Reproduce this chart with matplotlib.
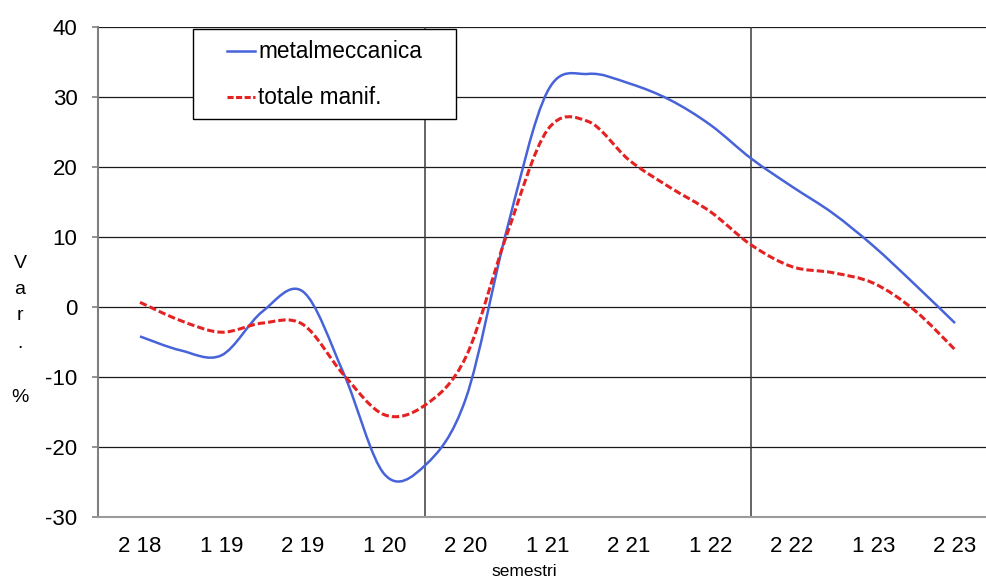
import numpy as np
import matplotlib
matplotlib.use("Agg")
import matplotlib.pyplot as plt
from matplotlib.path import Path
from matplotlib.patches import PathPatch, Rectangle
from matplotlib.lines import Line2D

plt.rcParams['font.family'] = ['Liberation Sans', 'DejaVu Sans']
plt.rcParams['axes.unicode_minus'] = False

# ---- data (quarterly readings, labels every semester) ----
categories = ['2 18', '1 19', '2 19', '1 20', '2 20', '1 21',
              '2 21', '1 22', '2 22', '1 23', '2 23']
quarters = list(range(21))
metalmeccanica = [-4.2, -6.2, -6.9, -0.67, 2.2, -9.5, -23.9, -22.6, -13.0, 11.0,
                  30.8, 33.3, 31.95, 29.6, 26.0, 21.2, 17.2, 13.4, 8.7, 3.3, -2.3]
totale_manif = [0.67, -1.95, -3.6, -2.3, -2.5, -9.7, -15.4, -14.0, -7.1, 10.3,
                25.3, 26.5, 21.0, 17.1, 13.6, 8.86, 5.76, 4.9, 3.4, -0.43, -6.1]
series_names = ['metalmeccanica', 'totale manif.']
yticks = [-30, -20, -10, 0, 10, 20, 30, 40]

W, H = 986, 579


def smooth_path(x, y):
    pts = np.column_stack([x, y]).astype(float)
    n = len(pts)
    verts = [pts[0]]
    codes = [Path.MOVETO]
    for i in range(n - 1):
        p0 = pts[i - 1] if i > 0 else pts[i]
        p1 = pts[i]
        p2 = pts[i + 1]
        p3 = pts[i + 2] if i + 2 < n else pts[i + 1]
        c1 = p1 + (p2 - p0) / 6.0
        c2 = p2 - (p3 - p1) / 6.0
        verts += [c1, c2, p2]
        codes += [Path.CURVE4] * 3
    return Path(verts, codes)


fig = plt.figure(figsize=(W / 100, H / 100), dpi=100)
ax = fig.add_axes([98 / W, 1 - 517 / H, 888 / W, 490 / H])

ax.set_xlim(-1.03, 20.76)
ax.set_ylim(-30, 40)
ax.set_yticks(yticks)
ax.set_xticks(quarters[::2])
ax.set_xticklabels(categories)

ax.yaxis.grid(True, color='#1a1a1a', lw=0.9)
ax.set_axisbelow(True)
for xv in (7, 15):
    ax.axvline(xv, color='#3a3a3a', lw=1.1, zorder=1)

for s in ('top', 'right'):
    ax.spines[s].set_visible(False)
ax.spines['left'].set_color('#808080')
ax.spines['left'].set_linewidth(1.5)
ax.spines['bottom'].set_color('#9a9a9a')
ax.spines['bottom'].set_linewidth(1.5)

ax.tick_params(axis='y', length=4.3, width=1.2, color='#808080', pad=10.5,
               labelsize=16)
ax.tick_params(axis='x', length=0, pad=13.5, labelsize=16)

blue = '#4763d9'
red = '#e52222'
p_metal = PathPatch(smooth_path(quarters, metalmeccanica), fill=False,
                    edgecolor=blue, lw=1.8, zorder=3, capstyle='butt')
p_tot = PathPatch(smooth_path(quarters, totale_manif), fill=False,
                  edgecolor=red, lw=2.2, linestyle=(0, (2.4, 1.0)), zorder=4,
                  capstyle='butt')
ax.add_patch(p_metal)
ax.add_patch(p_tot)

# ---- legend box (manual, figure pixel positions) ----
def fx(px):
    return px / W


def fy(py):
    return 1 - py / H


fig.patches.append(Rectangle((fx(193), fy(119)), fx(456) - fx(193), fy(29) - fy(119),
                             transform=fig.transFigure, facecolor='white',
                             edgecolor='black', lw=1.0, zorder=10))
fig.lines.append(Line2D([fx(227), fx(255)], [fy(51), fy(51)], transform=fig.transFigure,
                        color=blue, lw=1.8, zorder=11))
fig.lines.append(Line2D([fx(227), fx(255)], [fy(97), fy(97)], transform=fig.transFigure,
                        color=red, lw=2.2, linestyle=(0, (2.0, 0.8)), zorder=11))
fig.text(fx(258), fy(58.3), series_names[0], fontsize=16.3, va='baseline',
         ha='left', zorder=12)
fig.text(fx(258), fy(103.5), series_names[1], fontsize=16.3, va='baseline',
         ha='left', zorder=12)

# ---- axis labels ----
fig.text(fx(524), fy(571), 'semestri', fontsize=12.5, ha='center', va='center')
for ch, py in zip(['V', 'a', 'r', '.', '%'], [263, 290, 316, 343, 397]):
    fig.text(fx(20), fy(py), ch, fontsize=14, ha='center', va='center')

fig.savefig('out.png', dpi=100)
